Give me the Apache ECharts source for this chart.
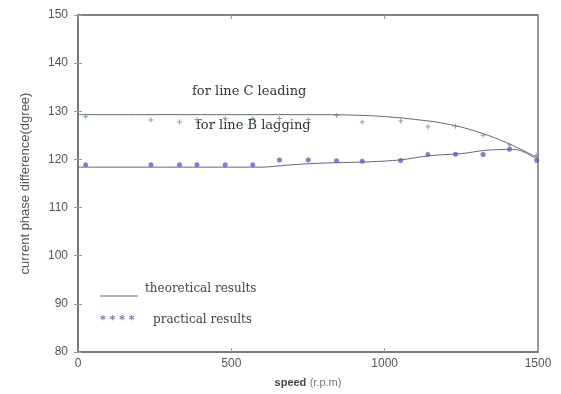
<!DOCTYPE html>
<html>
<head>
<meta charset="utf-8">
<script src="https://cdn.jsdelivr.net/npm/echarts@6/dist/echarts.min.js"></script>
<style>
  html, body { margin: 0; padding: 0; background: #fff; }
  #chart { width: 561px; height: 394px; }
</style>
</head>
<body>
<div id="chart"></div>
<script>
// Theoretical curves: [speed, phase difference]
const theoryC = [[0,129.3],[200,129.3],[400,129.3],[600,129.3],[800,129.3],[900,129.2],[1000,128.9],[1100,128.3],[1200,127.4],[1300,125.8],[1400,123.4],[1500,120.3]];
const theoryB = [[0,118.4],[300,118.4],[600,118.4],[680,118.8],[780,119.2],[950,119.5],[1050,119.9],[1150,120.8],[1250,121.2],[1330,121.9],[1420,122.1],[1460,121.4],[1500,119.8]];

// Measured points
const speeds = [25,238,331,388,480,570,657,751,843,927,1052,1141,1231,1321,1407,1496];
const measuredC = [128.9,128.2,127.8,128.3,128.5,128.5,128.5,128.3,129.1,127.8,128.0,126.8,126.9,125.0,123.0,120.8];
const measuredB = [118.9,118.9,118.9,118.9,118.9,118.9,119.9,119.9,119.7,119.6,119.8,121.0,121.1,121.0,122.1,119.8];

const xTicks = [0, 500, 1000, 1500];
const yTicks = [80, 90, 100, 110, 120, 130, 140, 150];

const pair = (xs, ys) => xs.map((x, i) => [x, ys[i]]);

const frame = '#7a7a7a';
const sans = 'Liberation Sans, Arial, sans-serif';
const tickFont = { fontFamily: sans, fontSize: 12, color: '#555' };
const serif = 'DejaVu Serif, Liberation Serif, serif';
const plusPath = 'path://M4,0H6V4H10V6H6V10H4V6H0V4H4Z';

const chart = echarts.init(document.getElementById('chart'), null, { renderer: 'canvas' });
chart.setOption({
  animation: false,
  backgroundColor: '#fff',
  grid: { left: 78, right: 23, top: 15, bottom: 39, show: true, borderColor: frame, borderWidth: 1.5 },
  xAxis: [{
    type: 'value', min: xTicks[0], max: xTicks[xTicks.length - 1], interval: 500,
    name: '{b|speed} {n|(r.p.m)}', nameLocation: 'middle', nameGap: 25,
    nameTextStyle: { rich: {
      b: { fontFamily: sans, fontSize: 11, color: '#444', fontWeight: 'bold' },
      n: { fontFamily: sans, fontSize: 11, color: '#777' }
    } },
    axisLine: { show: true, lineStyle: { color: frame, width: 2 } },
    axisTick: { show: true, inside: true, length: 4, lineStyle: { color: '#999' } },
    axisLabel: Object.assign({ margin: 6, formatter: v => String(v) }, tickFont),
    splitLine: { show: false }
  }, {
    type: 'value', position: 'top', min: 0, max: 1500, interval: 500,
    axisLine: { show: true, lineStyle: { color: frame, width: 1.5 } },
    axisTick: { show: true, inside: true, length: 4, lineStyle: { color: '#999' } },
    axisLabel: { show: false }, splitLine: { show: false }
  }],
  yAxis: [{
    type: 'value', min: yTicks[0], max: yTicks[yTicks.length - 1], interval: 10,
    name: 'current phase difference(dgree)', nameLocation: 'middle', nameGap: 46,
    nameTextStyle: { fontFamily: sans, fontSize: 13, color: '#555' },
    axisLine: { show: true, lineStyle: { color: frame, width: 2 } },
    axisTick: { show: true, inside: true, length: 4, lineStyle: { color: '#999' } },
    axisLabel: Object.assign({ margin: 10 }, tickFont),
    splitLine: { show: false }
  }, {
    type: 'value', position: 'right', min: 80, max: 150, interval: 10,
    axisLine: { show: true, lineStyle: { color: frame, width: 2 } },
    axisTick: { show: true, inside: true, length: 4, lineStyle: { color: '#999' } },
    axisLabel: { show: false }, splitLine: { show: false }
  }],
  series: [
    { type: 'line', data: theoryC, smooth: 0.4, showSymbol: false, lineStyle: { color: '#5f6878', width: 1 }, z: 2 },
    { type: 'line', data: theoryB, smooth: 0.3, showSymbol: false, lineStyle: { color: '#5f6878', width: 1 }, z: 2 },
    { type: 'scatter', data: pair(speeds, measuredC), symbol: plusPath, symbolSize: 5, itemStyle: { color: '#6f8a8a' }, z: 3 },
    { type: 'scatter', data: pair(speeds, measuredB), symbol: 'circle', symbolSize: 5, itemStyle: { color: '#5d5fc4' }, z: 3 }
  ],
  graphic: [
    { type: 'text', left: 192, top: 85, style: { text: 'for line C leading', font: '13px ' + serif, fill: '#333' } },
    { type: 'text', left: 196, top: 119, style: { text: 'for line B lagging', font: '13px ' + serif, fill: '#333' } },
    { type: 'line', shape: { x1: 100, y1: 296, x2: 138, y2: 296 }, style: { stroke: '#666', lineWidth: 1 } },
    { type: 'text', left: 145, top: 283, style: { text: 'theoretical results', font: '12px ' + serif, fill: '#444' } },
    { type: 'text', left: 100, top: 315, style: { text: '* * * *', font: 'bold 11px ' + serif, fill: '#6a6ab0' } },
    { type: 'text', left: 153, top: 314, style: { text: 'practical results', font: '12px ' + serif, fill: '#444' } }
  ]
});
</script>
</body>
</html>
